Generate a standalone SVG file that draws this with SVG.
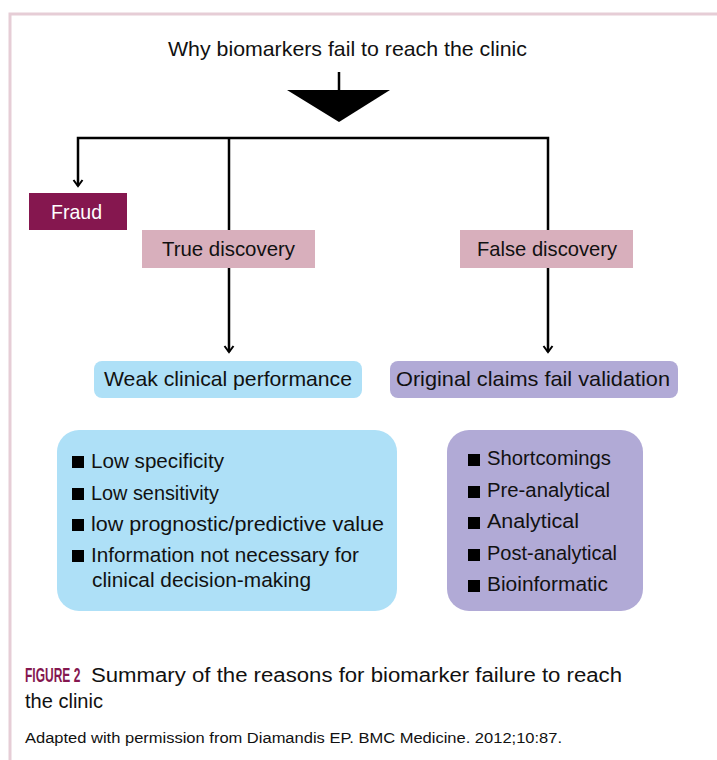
<svg xmlns="http://www.w3.org/2000/svg" width="717" height="760" viewBox="0 0 717 760">
<defs>
<style>
text{font-family:"Liberation Sans",Arial,sans-serif;fill:#111;}
.t{font-size:21px;}
.b{font-size:20.5px;}
.conn{stroke:#000;stroke-width:2.5;fill:none;}
.head{stroke:#000;stroke-width:2;fill:none;}
.bul{fill:#000;}
</style>
</defs>
<rect width="717" height="760" fill="#fff"/>
<path d="M10,760 V14 H717" fill="none" stroke="#e6cdd6" stroke-width="3"/>
<g id="title"><text class="t" x="168" y="56" textLength="359" lengthAdjust="spacingAndGlyphs">Why biomarkers fail to reach the clinic</text></g>
<g id="connectors">
<line class="conn" x1="339" y1="72" x2="339" y2="92"/>
<polygon points="287,90 390,90 339,122" fill="#000"/>
<path class="conn" d="M78,186 V138 H548 V352"/>
<line class="conn" x1="229" y1="138" x2="229" y2="352"/>
<path class="head" d="M73.5,180 L78,186 L82.5,180"/>
<path class="head" d="M224.5,346 L229,352 L233.5,346"/>
<path class="head" d="M543.5,346 L548,352 L552.5,346"/>
</g>
<g id="fraud"><rect x="29" y="193" width="98" height="37" fill="#85174f"/><text class="t" x="51" y="219" textLength="51" lengthAdjust="spacingAndGlyphs" style="fill:#fff">Fraud</text></g>
<g id="true-discovery"><rect x="142" y="230" width="173" height="38" fill="#d8afbc"/><text class="t" x="162" y="256" textLength="133" lengthAdjust="spacingAndGlyphs">True discovery</text></g>
<g id="false-discovery"><rect x="460" y="230" width="173" height="38" fill="#d8afbc"/><text class="t" x="477" y="256" textLength="140" lengthAdjust="spacingAndGlyphs">False discovery</text></g>
<g id="weak"><rect x="94" y="361" width="268" height="37" rx="8" fill="#aee0f7"/><text class="t" x="104" y="386" textLength="248" lengthAdjust="spacingAndGlyphs">Weak clinical performance</text></g>
<g id="original"><rect x="390" y="361" width="288" height="37" rx="8" fill="#b1aad6"/><text class="t" x="396" y="386" textLength="274" lengthAdjust="spacingAndGlyphs">Original claims fail validation</text></g>
<g id="weak-list"><rect x="57" y="430" width="340" height="181" rx="22" fill="#aee0f7"/>
<rect class="bul" x="72" y="456" width="12" height="12"/><text class="b" x="91" y="468" textLength="133" lengthAdjust="spacingAndGlyphs">Low specificity</text>
<rect class="bul" x="72" y="488" width="12" height="12"/><text class="b" x="91" y="500" textLength="128" lengthAdjust="spacingAndGlyphs">Low sensitivity</text>
<rect class="bul" x="72" y="519" width="12" height="12"/><text class="b" x="91" y="531" textLength="293" lengthAdjust="spacingAndGlyphs">low prognostic/predictive value</text>
<rect class="bul" x="72" y="550" width="12" height="12"/><text class="b" x="91" y="562" textLength="268" lengthAdjust="spacingAndGlyphs">Information not necessary for</text>
<text class="b" x="92" y="587" textLength="219" lengthAdjust="spacingAndGlyphs">clinical decision-making</text>
</g>
<g id="validation-list"><rect x="447" y="430" width="196" height="181" rx="22" fill="#b1aad6"/>
<rect class="bul" x="468" y="454" width="12" height="12"/><text class="b" x="487" y="465" textLength="124" lengthAdjust="spacingAndGlyphs">Shortcomings</text>
<rect class="bul" x="468" y="486" width="12" height="12"/><text class="b" x="487" y="497" textLength="123" lengthAdjust="spacingAndGlyphs">Pre-analytical</text>
<rect class="bul" x="468" y="517" width="12" height="12"/><text class="b" x="487" y="528" textLength="92" lengthAdjust="spacingAndGlyphs">Analytical</text>
<rect class="bul" x="468" y="549" width="12" height="12"/><text class="b" x="487" y="560" textLength="130" lengthAdjust="spacingAndGlyphs">Post-analytical</text>
<rect class="bul" x="468" y="580" width="12" height="12"/><text class="b" x="487" y="591" textLength="121" lengthAdjust="spacingAndGlyphs">Bioinformatic</text>
</g>
<g id="caption">
<text transform="translate(25,682) scale(0.6,1)" x="0" y="0" style="font-size:20px;font-weight:bold;fill:#85174f">FIGURE 2</text>
<text x="91" y="682" style="font-size:20px" textLength="531" lengthAdjust="spacingAndGlyphs">Summary of the reasons for biomarker failure to reach</text>
<text x="25" y="708" style="font-size:20px" textLength="78" lengthAdjust="spacingAndGlyphs">the clinic</text>
<text x="25" y="743" style="font-size:15.5px" textLength="537" lengthAdjust="spacingAndGlyphs">Adapted with permission from Diamandis EP. BMC Medicine. 2012;10:87.</text>
</g>
</svg>
